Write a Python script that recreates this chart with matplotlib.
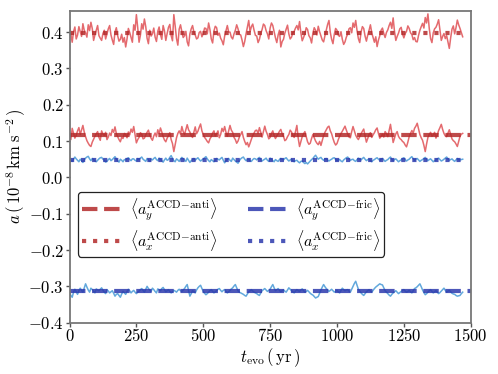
import numpy as np
import matplotlib
matplotlib.use("Agg")
import matplotlib.pyplot as plt
from matplotlib.ticker import FuncFormatter

plt.rcParams["mathtext.fontset"] = "cm"
plt.rcParams["font.family"] = "serif"

dt = 5.0  # sampling step of the series (yr)

# a_x ACCD-anti (top band)
ax_anti = [0.418, 0.395, 0.372, 0.401, 0.414, 0.381, 0.392, 0.415, 0.402, 0.388, 0.423, 0.405,
           0.398, 0.386, 0.420, 0.404, 0.427, 0.410, 0.377, 0.392, 0.405, 0.418, 0.390, 0.383,
           0.377, 0.396, 0.405, 0.381, 0.395, 0.409, 0.418, 0.392, 0.378, 0.366, 0.400, 0.412,
           0.390, 0.375, 0.380, 0.394, 0.372, 0.385, 0.359, 0.381, 0.410, 0.399, 0.386, 0.372,
           0.420, 0.405, 0.448, 0.412, 0.372, 0.391, 0.423, 0.408, 0.436, 0.415, 0.383, 0.368,
           0.405, 0.389, 0.395, 0.411, 0.386, 0.374, 0.402, 0.414, 0.393, 0.380, 0.418, 0.403,
           0.377, 0.396, 0.413, 0.421, 0.390, 0.376, 0.448, 0.417, 0.382, 0.364, 0.408, 0.420,
           0.401, 0.385, 0.390, 0.402, 0.373, 0.362, 0.395, 0.409, 0.418, 0.400, 0.392, 0.381,
           0.384, 0.399, 0.402, 0.387, 0.396, 0.411, 0.410, 0.395, 0.425, 0.407, 0.381, 0.370,
           0.403, 0.416, 0.412, 0.391, 0.397, 0.383, 0.376, 0.365, 0.389, 0.404, 0.418, 0.400,
           0.400, 0.386, 0.381, 0.395, 0.405, 0.420, 0.409, 0.394, 0.392, 0.378, 0.360, 0.374,
           0.395, 0.414, 0.432, 0.401, 0.415, 0.422, 0.405, 0.391, 0.389, 0.371, 0.380, 0.396,
           0.407, 0.422, 0.418, 0.404, 0.395, 0.381, 0.411, 0.425, 0.418, 0.401, 0.384, 0.371,
           0.392, 0.405, 0.359, 0.374, 0.380, 0.397, 0.408, 0.419, 0.395, 0.381, 0.386, 0.398,
           0.402, 0.411, 0.418, 0.406, 0.429, 0.398, 0.376, 0.385, 0.395, 0.412, 0.407, 0.390,
           0.384, 0.370, 0.397, 0.412, 0.405, 0.392, 0.416, 0.401, 0.389, 0.378, 0.373, 0.390,
           0.405, 0.421, 0.432, 0.399, 0.380, 0.368, 0.394, 0.410, 0.405, 0.391, 0.388, 0.401,
           0.380, 0.366, 0.373, 0.386, 0.395, 0.409, 0.412, 0.398, 0.425, 0.413, 0.432, 0.404,
           0.382, 0.371, 0.400, 0.415, 0.410, 0.389, 0.375, 0.392, 0.405, 0.420, 0.398, 0.385,
           0.372, 0.387, 0.360, 0.378, 0.390, 0.405, 0.411, 0.396, 0.385, 0.399, 0.406, 0.418,
           0.427, 0.410, 0.439, 0.402, 0.377, 0.388, 0.397, 0.409, 0.413, 0.395, 0.384, 0.396,
           0.402, 0.417, 0.410, 0.398, 0.393, 0.379, 0.385, 0.374, 0.373, 0.391, 0.405, 0.415,
           0.424, 0.411, 0.440, 0.425, 0.450, 0.410, 0.382, 0.371, 0.398, 0.409, 0.413, 0.422,
           0.434, 0.405, 0.377, 0.388, 0.396, 0.382, 0.390, 0.372, 0.355, 0.384, 0.408, 0.417,
           0.395, 0.412, 0.433, 0.420, 0.410, 0.398, 0.387]

# a_y ACCD-anti
ay_anti = [0.120, 0.104, 0.135, 0.122, 0.108, 0.116, 0.128, 0.137, 0.118, 0.130, 0.143, 0.125,
           0.112, 0.101, 0.094, 0.088, 0.085, 0.097, 0.105, 0.113, 0.120, 0.126, 0.110, 0.102,
           0.128, 0.119, 0.115, 0.124, 0.104, 0.111, 0.122, 0.115, 0.132, 0.124, 0.139, 0.121,
           0.112, 0.104, 0.098, 0.110, 0.107, 0.121, 0.118, 0.109, 0.125, 0.117, 0.133, 0.124,
           0.140, 0.118, 0.095, 0.104, 0.110, 0.123, 0.119, 0.106, 0.108, 0.117, 0.124, 0.130,
           0.116, 0.108, 0.102, 0.114, 0.122, 0.112, 0.131, 0.120, 0.136, 0.125, 0.112, 0.103,
           0.098, 0.108, 0.115, 0.123, 0.104, 0.093, 0.071, 0.090, 0.109, 0.121, 0.128, 0.119,
           0.140, 0.126, 0.118, 0.132, 0.145, 0.131, 0.125, 0.115, 0.110, 0.124, 0.139, 0.120,
           0.127, 0.138, 0.147, 0.128, 0.118, 0.110, 0.105, 0.099, 0.095, 0.106, 0.112, 0.122,
           0.128, 0.114, 0.120, 0.128, 0.109, 0.118, 0.135, 0.126, 0.140, 0.124, 0.113, 0.128,
           0.143, 0.130, 0.124, 0.110, 0.104, 0.094, 0.100, 0.111, 0.118, 0.126, 0.110, 0.099,
           0.090, 0.096, 0.084, 0.094, 0.105, 0.115, 0.122, 0.129, 0.130, 0.121, 0.137, 0.124,
           0.111, 0.126, 0.141, 0.127, 0.118, 0.106, 0.110, 0.121, 0.128, 0.115, 0.107, 0.114,
           0.120, 0.127, 0.132, 0.120, 0.113, 0.101, 0.104, 0.112, 0.118, 0.130, 0.125, 0.116,
           0.110, 0.127, 0.143, 0.108, 0.085, 0.099, 0.112, 0.120, 0.126, 0.112, 0.098, 0.091,
           0.094, 0.107, 0.118, 0.109, 0.100, 0.094, 0.090, 0.099, 0.088, 0.101, 0.115, 0.124,
           0.131, 0.138, 0.141, 0.128, 0.120, 0.107, 0.096, 0.089, 0.093, 0.104, 0.113, 0.121,
           0.127, 0.134, 0.141, 0.130, 0.120, 0.111, 0.109, 0.126, 0.140, 0.128, 0.116, 0.109,
           0.104, 0.112, 0.120, 0.127, 0.133, 0.114, 0.097, 0.107, 0.118, 0.123, 0.110, 0.117,
           0.123, 0.131, 0.136, 0.121, 0.108, 0.113, 0.119, 0.111, 0.126, 0.120, 0.112, 0.129,
           0.146, 0.121, 0.096, 0.108, 0.120, 0.126, 0.113, 0.107, 0.104, 0.099, 0.096, 0.089,
           0.084, 0.097, 0.112, 0.121, 0.129, 0.122, 0.135, 0.141, 0.149, 0.133, 0.118, 0.109,
           0.102, 0.088, 0.071, 0.092, 0.110, 0.118, 0.124, 0.113, 0.117, 0.124, 0.108, 0.117,
           0.129, 0.137, 0.146, 0.132, 0.121, 0.114, 0.112, 0.122, 0.131, 0.119, 0.106, 0.101,
           0.098, 0.092, 0.085, 0.099, 0.113, 0.119, 0.121]

# a_x ACCD-fric
ax_fric = [0.052, 0.047, 0.044, 0.050, 0.056, 0.051, 0.047, 0.043, 0.050, 0.046, 0.041, 0.048,
           0.053, 0.056, 0.058, 0.051, 0.046, 0.052, 0.049, 0.045, 0.043, 0.047, 0.051, 0.054,
           0.055, 0.050, 0.047, 0.042, 0.044, 0.049, 0.052, 0.046, 0.049, 0.053, 0.057, 0.051,
           0.046, 0.042, 0.050, 0.047, 0.043, 0.049, 0.048, 0.052, 0.054, 0.049, 0.046, 0.051,
           0.051, 0.047, 0.045, 0.052, 0.049, 0.053, 0.056, 0.050, 0.047, 0.044, 0.052, 0.048,
           0.044, 0.050, 0.048, 0.052, 0.055, 0.049, 0.046, 0.053, 0.050, 0.046, 0.042, 0.048,
           0.053, 0.047, 0.049, 0.055, 0.060, 0.052, 0.046, 0.043, 0.051, 0.048, 0.044, 0.050,
           0.055, 0.051, 0.048, 0.044, 0.053, 0.047, 0.041, 0.046, 0.049, 0.052, 0.047, 0.051,
           0.054, 0.049, 0.045, 0.048, 0.050, 0.054, 0.057, 0.051, 0.046, 0.043, 0.049, 0.046,
           0.043, 0.048, 0.052, 0.050, 0.048, 0.052, 0.055, 0.047, 0.040, 0.046, 0.050, 0.052,
           0.047, 0.044, 0.053, 0.049, 0.045, 0.042, 0.039, 0.046, 0.051, 0.054, 0.056, 0.050,
           0.046, 0.049, 0.050, 0.046, 0.044, 0.049, 0.052, 0.051, 0.048, 0.052, 0.055, 0.049,
           0.045, 0.048, 0.050, 0.053, 0.047, 0.044, 0.053, 0.050, 0.046, 0.043, 0.049, 0.046,
           0.044, 0.049, 0.052, 0.050, 0.048, 0.052, 0.054, 0.049, 0.045, 0.048, 0.050, 0.045,
           0.043, 0.046, 0.047, 0.043, 0.040, 0.044, 0.045, 0.041, 0.038, 0.041, 0.037, 0.041,
           0.045, 0.049, 0.052, 0.057, 0.061, 0.055, 0.050, 0.053, 0.055, 0.050, 0.047, 0.051,
           0.052, 0.048, 0.045, 0.048, 0.050, 0.053, 0.054, 0.049, 0.046, 0.048, 0.049, 0.045,
           0.043, 0.048, 0.051, 0.054, 0.056, 0.051, 0.047, 0.049, 0.050, 0.046, 0.044, 0.049,
           0.053, 0.050, 0.048, 0.052, 0.055, 0.050, 0.046, 0.049, 0.050, 0.046, 0.043, 0.047,
           0.049, 0.052, 0.054, 0.050, 0.047, 0.050, 0.052, 0.048, 0.044, 0.047, 0.049, 0.053,
           0.056, 0.050, 0.046, 0.049, 0.051, 0.047, 0.043, 0.046, 0.048, 0.052, 0.054, 0.049,
           0.045, 0.048, 0.050, 0.054, 0.057, 0.051, 0.047, 0.050, 0.052, 0.048, 0.044, 0.047,
           0.049, 0.052, 0.055, 0.050, 0.046, 0.049, 0.051, 0.047, 0.043, 0.046, 0.048, 0.051,
           0.053, 0.049, 0.045, 0.047, 0.050, 0.053, 0.056, 0.051, 0.047, 0.049, 0.051, 0.047,
           0.044, 0.048, 0.052, 0.049, 0.048, 0.049, 0.050]

# a_y ACCD-fric
ay_fric = [-0.318, -0.325, -0.330, -0.316, -0.308, -0.315, -0.322, -0.312, -0.305, -0.311,
           -0.316, -0.304, -0.293, -0.302, -0.310, -0.316, -0.305, -0.309, -0.314, -0.318,
           -0.307, -0.310, -0.312, -0.308, -0.304, -0.311, -0.316, -0.320, -0.309, -0.313,
           -0.318, -0.315, -0.312, -0.319, -0.327, -0.322, -0.320, -0.325, -0.330, -0.321,
           -0.314, -0.318, -0.322, -0.314, -0.308, -0.312, -0.318, -0.314, -0.311, -0.316,
           -0.320, -0.316, -0.313, -0.309, -0.306, -0.311, -0.316, -0.308, -0.300, -0.306,
           -0.310, -0.314, -0.305, -0.309, -0.314, -0.318, -0.307, -0.310, -0.312, -0.306,
           -0.303, -0.309, -0.315, -0.312, -0.309, -0.314, -0.318, -0.315, -0.311, -0.313,
           -0.316, -0.311, -0.308, -0.312, -0.314, -0.310, -0.306, -0.300, -0.295, -0.311,
           -0.327, -0.320, -0.312, -0.315, -0.318, -0.310, -0.304, -0.300, -0.297, -0.306,
           -0.314, -0.319, -0.323, -0.320, -0.316, -0.312, -0.309, -0.314, -0.318, -0.315,
           -0.312, -0.308, -0.306, -0.311, -0.315, -0.311, -0.309, -0.314, -0.318, -0.315,
           -0.311, -0.307, -0.304, -0.299, -0.295, -0.304, -0.312, -0.316, -0.318, -0.320,
           -0.322, -0.325, -0.327, -0.321, -0.315, -0.312, -0.309, -0.313, -0.316, -0.318,
           -0.320, -0.323, -0.325, -0.318, -0.312, -0.309, -0.306, -0.310, -0.314, -0.311,
           -0.308, -0.301, -0.295, -0.304, -0.312, -0.309, -0.306, -0.311, -0.315, -0.312,
           -0.310, -0.313, -0.316, -0.310, -0.304, -0.308, -0.312, -0.315, -0.318, -0.313,
           -0.309, -0.312, -0.314, -0.310, -0.307, -0.312, -0.316, -0.314, -0.311, -0.315,
           -0.319, -0.322, -0.324, -0.328, -0.332, -0.330, -0.328, -0.319, -0.310, -0.302,
           -0.295, -0.301, -0.306, -0.310, -0.314, -0.311, -0.308, -0.312, -0.316, -0.313,
           -0.311, -0.315, -0.318, -0.311, -0.305, -0.309, -0.312, -0.310, -0.309, -0.313,
           -0.316, -0.308, -0.300, -0.292, -0.286, -0.297, -0.308, -0.313, -0.318, -0.322,
           -0.325, -0.320, -0.315, -0.312, -0.309, -0.313, -0.316, -0.311, -0.306, -0.302,
           -0.299, -0.296, -0.293, -0.295, -0.296, -0.304, -0.312, -0.316, -0.320, -0.324,
           -0.327, -0.322, -0.318, -0.315, -0.312, -0.316, -0.320, -0.317, -0.314, -0.311,
           -0.309, -0.313, -0.316, -0.314, -0.311, -0.315, -0.318, -0.312, -0.306, -0.304,
           -0.301, -0.297, -0.293, -0.301, -0.310, -0.317, -0.323, -0.320, -0.316, -0.312,
           -0.309, -0.314, -0.318, -0.315, -0.312, -0.316, -0.320, -0.317, -0.313, -0.309,
           -0.305, -0.311, -0.316, -0.313, -0.311, -0.315, -0.319, -0.321, -0.322, -0.325,
           -0.327, -0.326, -0.325, -0.320, -0.316]

# time averages
mean_ax_anti = 0.397
mean_ay_anti = 0.117
mean_ax_fric = 0.048
mean_ay_fric = -0.313
t_last = 1470

red_light = "#e46a6e"
blue_light = "#62a8dc"
red_dark = "#b32a2a"
blue_dark = "#2c39ad"

fig = plt.figure(figsize=(4.98, 3.74), dpi=100)
ax = fig.add_axes([0.1396, 0.1372, 0.8056, 0.8334])

for series, col in [(ax_anti, red_light), (ay_anti, red_light),
                    (ax_fric, blue_light), (ay_fric, blue_light)]:
    t = np.arange(len(series)) * dt
    ax.plot(t, series, color=col, lw=1.1)

ax.plot([0, 1500], [mean_ay_anti] * 2, ls="--", lw=3, color=red_dark, alpha=0.85,
        label=r"$\langle a_y^{\rm ACCD\!-\!anti}\rangle$")
ax.plot([0, t_last], [mean_ax_anti] * 2, ls=":", lw=3, color=red_dark, alpha=0.85,
        label=r"$\langle a_x^{\rm ACCD\!-\!anti}\rangle$")
ax.plot([0, 1500], [mean_ay_fric] * 2, ls="--", lw=3, color=blue_dark, alpha=0.85,
        label=r"$\langle a_y^{\rm ACCD\!-\!fric}\rangle$")
ax.plot([0, t_last], [mean_ax_fric] * 2, ls=":", lw=3, color=blue_dark, alpha=0.85,
        label=r"$\langle a_x^{\rm ACCD\!-\!fric}\rangle$")

ax.set_xlim(0, 1500)
ax.set_ylim(-0.4, 0.458)
ax.set_xticks([0, 250, 500, 750, 1000, 1250, 1500])
ax.set_yticks([-0.4, -0.3, -0.2, -0.1, 0.0, 0.1, 0.2, 0.3, 0.4])
ax.xaxis.set_major_formatter(FuncFormatter(lambda v, p: r"$%d$" % v))
ax.yaxis.set_major_formatter(FuncFormatter(lambda v, p: r"$%.1f$" % v))
ax.tick_params(direction="out", length=3, width=1, colors="#555555", labelsize=12,
               labelcolor="black", pad=1)
for s in ax.spines.values():
    s.set_color("#777777")
    s.set_linewidth(1.3)

ax.set_xlabel(r"$t_{\rm evo}\,(\,\mathrm{yr}\,)$", fontsize=12, labelpad=1)
ax.set_ylabel(r"$a\,(\,10^{-8}\,\mathrm{km\;s^{-2}}\,)$", fontsize=12, labelpad=0)

leg = ax.legend(ncol=2, loc="upper left", bbox_to_anchor=(0.021, 0.419),
                borderaxespad=0, fontsize=11.5, handlelength=2.4, handletextpad=0.6,
                columnspacing=1.9, labelspacing=0.3, borderpad=0.25,
                framealpha=1, edgecolor="#222222", fancybox=True)
leg.get_frame().set_linewidth(0.9)

fig.savefig("out.png", dpi=100)
